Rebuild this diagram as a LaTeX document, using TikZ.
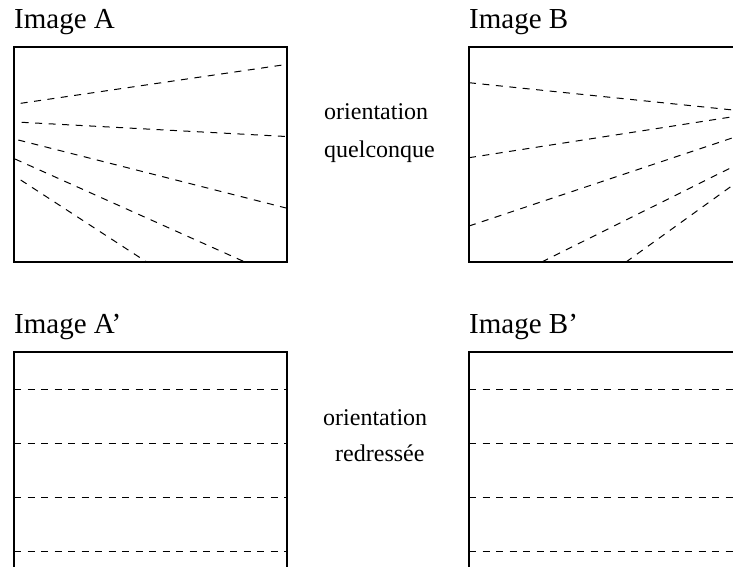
\documentclass[tikz,border=0pt]{standalone}
\usepackage{fontspec}
\setmainfont{Liberation Serif}
\newcommand{\grandtitre}{\fontsize{29}{31}\selectfont}
\newcommand{\petittexte}{\fontsize{24}{26}\selectfont}
\tikzset{
  cadre/.style={line width=2pt},
  ligne/.style={line width=1pt,dash pattern=on 7pt off 6.5pt},
  titre/.style={anchor=base west,inner sep=0pt,font=\grandtitre},
  texte/.style={anchor=base west,inner sep=0pt,font=\petittexte}
}

\begin{document}
\begin{tikzpicture}[x=1pt,y=-1pt]%
  \clip (0,0) rectangle (733,566);
  % titres des images
  \node[titre] (titreA)  at (14,28.3)  {Image A};
  \node[titre] (titreB)  at (469,28.3) {Image B};
  \node[titre] (titreAp) at (14,333.5) {Image A’};
  \node[titre] (titreBp) at (469,333.5) {Image B’};
  % textes du milieu
  \node[texte] (orient1) at (324,119)   {orientation};
  \node[texte] (quelc)   at (324,157)   {quelconque};
  \node[texte] (orient2) at (323,425)   {orientation};
  \node[texte] (redr)    at (335,461.5) {redressée};
  % image A : droites en orientation quelconque
  \draw[ligne] (20.7,103.3) -- (287.3,64.3);
  \draw[ligne] (21.7,122.3) -- (290,136.7);
  \draw[ligne] (18.3,140)   -- (287.3,208.3);
  \draw[ligne] (15,159)     -- (245,262);
  \draw[ligne] (20.7,180)   -- (146.7,262);
  % image B
  \draw[ligne] (469,82.7)   -- (733,110);
  \draw[ligne] (469,157.7)  -- (733,116.7);
  \draw[ligne] (469,226)    -- (733,137.7);
  \draw[ligne] (541.7,262)  -- (733,166.7);
  \draw[ligne] (626,262)    -- (733,185);
  % images A' et B' : droites redressees
  \foreach \y in {389,443.3,497.3,551.7}{%
    \draw[ligne] (14,\y)  -- (287.3,\y);
    \draw[ligne] (469,\y) -- (733,\y);
  }
  % cadres
  \draw[cadre] (14,46.7)   rectangle (287.3,262.3);
  \draw[cadre] (469,46.7)  rectangle (760,262.3);
  \draw[cadre] (14,352.3)  rectangle (287.3,600);
  \draw[cadre] (469,352.3) rectangle (760,600);
\end{tikzpicture}
\end{document}
